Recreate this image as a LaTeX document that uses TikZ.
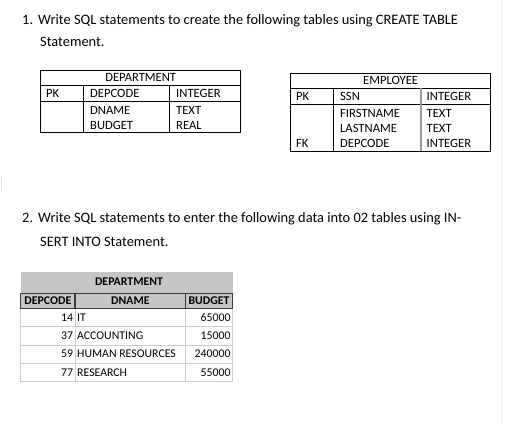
\documentclass[tikz,border=0pt]{standalone}
\usepackage{fontspec}
\setmainfont{Carlito}
\definecolor{hdrgray}{HTML}{C6C6C6}
\definecolor{gridgray}{HTML}{CCCCCC}
\definecolor{edgegray}{HTML}{EDEDED}
\definecolor{darkline}{HTML}{3A3A3A}
\begin{document}
\begin{tikzpicture}[x=1pt,y=-1pt,
  body/.style={inner sep=0pt, anchor=base west, font=\fontsize{14.4}{17}\selectfont},
  cell/.style={inner sep=0pt, anchor=base west, font=\fontsize{12.6}{15}\selectfont},
  cellc/.style={cell, anchor=base},
  dcellw/.style={inner sep=0pt, anchor=base west, font=\fontsize{11.8}{14}\selectfont},
  dcelle/.style={inner sep=0pt, anchor=base east, font=\fontsize{11.8}{14}\selectfont},
  dhead/.style={inner sep=0pt, anchor=base, font=\fontsize{11.8}{14}\selectfont\bfseries},
  tline/.style={line width=0.9pt, black},
  gline/.style={line width=1.3pt, black!40},
  hline/.style={line width=1.1pt, darkline},
  lgrid/.style={line width=0.9pt, gridgray}]
\useasboundingbox (0,0) rectangle (511,431);
\fill[white] (0,0) rectangle (511,431);
% page edge
\draw[line width=0.8pt, edgegray] (501,0) -- (501,423);
\draw[line width=1pt, black!12] (1,176) -- (1,190);

% Question 1
\node[body] (n1) at (22,24.5) {1.};
\node[body] (q1a) at (38,24.5) {Write SQL statements to create the following tables using CREATE TABLE};
\node[body] (q1b) at (40,46) {Statement.};

% DEPARTMENT schema table
\draw[tline] (40.7,70.7) rectangle (240.7,132.7);
\draw[tline] (40.7,85) -- (240.7,85);
\draw[tline] (40.7,101.7) -- (240.7,101.7);
\draw[tline] (83.3,85) -- (83.3,132.7);
\draw[tline] (169.5,85) -- (169.5,132.7);
\node[cellc] (dt) at (140.7,81.7) {DEPARTMENT};
\node[cell] (dpk) at (46,97.5) {PK};
\node[cell] (dc1) at (90,97.5) {DEPCODE};
\node[cell] (dt1) at (176,97.5) {INTEGER};
\node[cell] (dc2) at (90,114.5) {DNAME};
\node[cell] (dt2) at (176,114.5) {TEXT};
\node[cell] (dc3) at (90,129.5) {BUDGET};
\node[cell] (dt3) at (176,129.5) {REAL};

% EMPLOYEE schema table
\draw[tline] (290.5,73.3) rectangle (490.7,151);
\draw[tline] (290.5,88) -- (490.7,88);
\draw[tline] (290.5,104) -- (490.7,104);
\draw[tline] (333.8,88) -- (333.8,151);
\draw[gline] (421,88) -- (421,151);
\node[cellc] (et) at (390.6,84.7) {EMPLOYEE};
\node[cell] (epk) at (296,100.5) {PK};
\node[cell] (ec1) at (340,100.5) {SSN};
\node[cell] (et1) at (426.5,100.5) {INTEGER};
\node[cell] (ec2) at (340,117.5) {FIRSTNAME};
\node[cell] (et2) at (426.5,117.5) {TEXT};
\node[cell] (ec3) at (340,132.5) {LASTNAME};
\node[cell] (et3) at (426.5,132.5) {TEXT};
\node[cell] (efk) at (296,147.5) {FK};
\node[cell] (ec4) at (340,147.5) {DEPCODE};
\node[cell] (et4) at (426.5,147.5) {INTEGER};

% Question 2
\node[body] (n2) at (22,222) {2.};
\node[body] (q2a) at (38,222) {Write SQL statements to enter the following data into 02 tables using IN-};
\node[body] (q2b) at (40,246) {SERT INTO Statement.};

% DEPARTMENT data table
\fill[hdrgray] (20.5,272.3) rectangle (233,308.3);
\draw[lgrid] (20.7,326.7) -- (232.3,326.7);
\draw[lgrid] (20.7,345) -- (232.3,345);
\draw[lgrid] (20.7,363.3) -- (232.3,363.3);
\draw[lgrid] (20.7,381.7) -- (232.3,381.7);
\draw[lgrid] (20.7,308.3) -- (20.7,381.7);
\draw[lgrid] (75,308.3) -- (75,381.7);
\draw[lgrid] (185.7,308.3) -- (185.7,381.7);
\draw[lgrid] (232.3,308.3) -- (232.3,381.7);
\draw[hline] (20.7,293.3) rectangle (75,308.3);
\draw[hline] (75,293.3) rectangle (185.7,308.3);
\draw[hline] (185.7,293.3) rectangle (232.3,308.3);
\node[dhead] (ddt) at (129,285.5) {DEPARTMENT};
\node[dhead] (dh1) at (47.9,304.3) {DEPCODE};
\node[dhead] (dh2) at (130.4,304.3) {DNAME};
\node[dhead] (dh3) at (209,304.3) {BUDGET};
\node[dcelle] (r1a) at (73.3,321.2) {14};
\node[dcellw] (r1b) at (77,321.2) {IT};
\node[dcelle] (r1c) at (230.7,321.2) {65000};
\node[dcelle] (r2a) at (73.3,339.5) {37};
\node[dcellw] (r2b) at (77,339.5) {ACCOUNTING};
\node[dcelle] (r2c) at (230.7,339.5) {15000};
\node[dcelle] (r3a) at (73.3,357.8) {59};
\node[dcellw] (r3b) at (77,357.8) {HUMAN RESOURCES};
\node[dcelle] (r3c) at (230.7,357.8) {240000};
\node[dcelle] (r4a) at (73.3,376.1) {77};
\node[dcellw] (r4b) at (77,376.1) {RESEARCH};
\node[dcelle] (r4c) at (230.7,376.1) {55000};
\end{tikzpicture}
\end{document}
